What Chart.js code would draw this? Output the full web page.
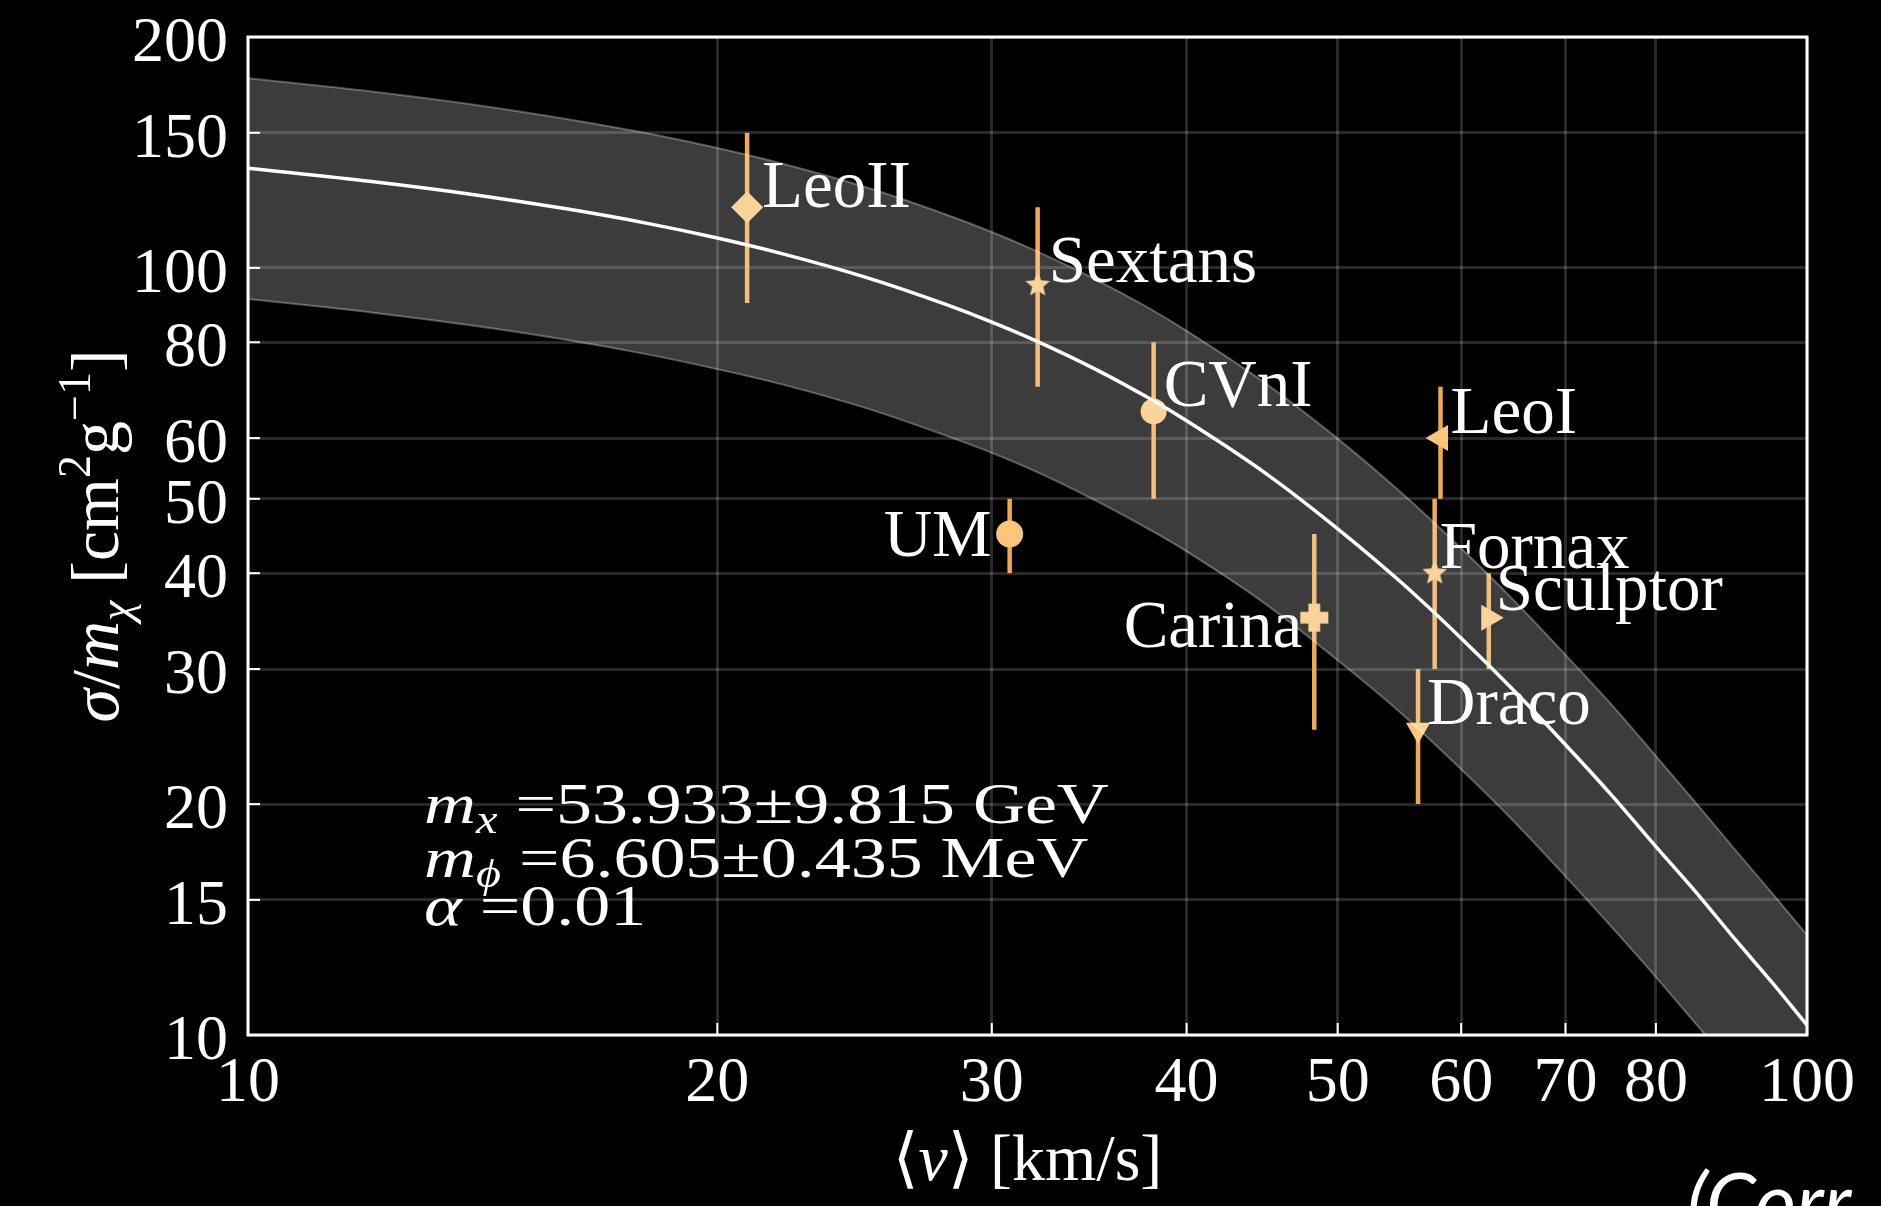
<!DOCTYPE html>
<html>
<head>
<meta charset="utf-8">
<title>sigma/m vs velocity</title>
<script src="https://cdn.jsdelivr.net/npm/chart.js@4.4.1/dist/chart.umd.min.js"></script>
<style>
  html,body{margin:0;padding:0;background:#000;overflow:hidden}
  #wrap{position:relative;width:1881px;height:1206px}
</style>
</head>
<body>
<div id="wrap"><canvas id="chart"></canvas></div>
<script>
// --- values ---
const galaxies = ['LeoII','Sextans','CVnI','UM','Carina','LeoI','Fornax','Sculptor','Draco']
const galV     = [20.9, 32.1, 38.1, 30.8, 48.3, 58.2, 57.7, 62.5, 56.3]
const galSigma = [120, 95, 65, 45, 35, 60, 40, 35, 25]
const galLo    = [90, 70, 50, 40, 25, 50, 30, 30, 20]
const galHi    = [150, 120, 80, 50, 45, 70, 50, 40, 30]

const curveV  = [10,12,14,16,18,20,22,25,28,30,32,35,38,40,45,50,55,60,65,70,75,80,85,90,95,100]
const fitMid  = [134.9,129.6,124.5,119.4,114.4,109.4,104.4,97.0,89.7,85.0,80.4,73.7,67.3,63.2,53.9,45.7,38.8,32.9,28.0,23.9,20.5,17.6,15.3,13.3,11.7,10.3]
const fitHigh = [176.7,169.8,163.1,156.4,149.9,143.3,136.8,127.1,117.5,111.4,105.3,96.5,88.2,82.8,70.6,59.9,50.8,43.1,36.7,31.3,26.9,23.1,20.0,17.4,15.3,13.5]
const fitLow  = [91.1,87.5,84.0,80.6,77.2,73.8,70.5,65.5,60.5,57.4,54.3,49.7,45.4,42.7,36.4,30.8,26.2,22.2,18.9,16.1,13.8,11.9,10.3,9.0,7.9,7.0]

const xTicks = [10,20,30,40,50,60,70,80,100]
const yTicks = [10,15,20,30,40,50,60,80,100,150,200]

// --- look ---
const SERIF = '"Liberation Serif", "DejaVu Serif", "DejaVu Sans", serif'
const markFill = '#f9c67a'
const errColor = '#f2aa52'
const bandFill = 'rgba(255,255,255,0.235)'
const bandEdge = 'rgba(255,255,255,0.30)'
const gridColor = 'rgba(255,255,255,0.16)'

// label offsets in px from the marker [dx, dy, align]
const labelPos = [[15,0,'left'],[11,-3,'left'],[10,-5,'left'],[-18,22,'right'],[-12,29,'right'],
                  [10,-5,'left'],[5,-5,'left'],[7,-8,'left'],[9,-6,'left']]

function starCanvas(r){
  const s = Math.ceil(r*2+4), c = document.createElement('canvas')
  c.width = c.height = s
  const g = c.getContext('2d')
  g.fillStyle = markFill
  g.beginPath()
  for(let k=0;k<10;k++){
    const a = -Math.PI/2 + k*Math.PI/5, rr = k%2 ? r*0.45 : r
    g.lineTo(s/2 + rr*Math.cos(a), s/2 + rr*Math.sin(a))
  }
  g.closePath(); g.fill()
  return c
}
function plusCanvas(r){
  const s = Math.ceil(r*2+2), c = document.createElement('canvas')
  c.width = c.height = s
  const g = c.getContext('2d'), h = r*0.42, m = s/2
  g.fillStyle = markFill
  g.fillRect(m-h, m-r, 2*h, 2*r)
  g.fillRect(m-r, m-h, 2*r, 2*h)
  return c
}
const star = starCanvas(13)
const markers  = ['rectRot', star, 'circle', 'circle', plusCanvas(14), 'triangle', star, 'triangle', 'triangle']
const rotation = [0, 0, 0, 0, 0, -90, 0, 90, 180]
const radius   = [16, 13, 13, 13.5, 14, 15, 13, 15, 14]

// draw a run of [text, font, dy] pieces starting at x
function runsWidth(ctx, runs){
  let w = 0
  runs.forEach(r => { ctx.font = r[1]; w += ctx.measureText(r[0]).width })
  return w
}
function drawRuns(ctx, runs, x, y){
  let cx = x
  runs.forEach(r => {
    ctx.font = r[1]
    ctx.fillText(r[0], cx, y + (r[2] || 0))
    cx += ctx.measureText(r[0]).width
  })
}

const overlay = {
  id: 'overlay',
  beforeDatasetDraw(chart, args){
    if(args.index !== 3) return
    const {x, y} = chart.scales, ctx = chart.ctx
    ctx.save()
    ctx.strokeStyle = errColor
    ctx.lineWidth = 4.5
    galV.forEach((v,i) => {
      const px = x.getPixelForValue(v)
      ctx.beginPath()
      ctx.moveTo(px, y.getPixelForValue(galHi[i]))
      ctx.lineTo(px, y.getPixelForValue(galLo[i]))
      ctx.stroke()
    })
    ctx.restore()
  },
  afterDraw(chart){
    const {x, y} = chart.scales, ctx = chart.ctx, a = chart.chartArea
    ctx.save()
    ctx.fillStyle = '#fff'
    ctx.textBaseline = 'alphabetic'

    // galaxy names
    ctx.font = `67px ${SERIF}`
    galaxies.forEach((g,i) => {
      const [dx, dy, al] = labelPos[i]
      ctx.textAlign = al
      ctx.fillText(g, x.getPixelForValue(galV[i]) + dx, y.getPixelForValue(galSigma[i]) + dy)
    })
    ctx.textAlign = 'left'

    // frame + inward ticks
    ctx.strokeStyle = '#fff'
    ctx.lineWidth = 3
    ctx.strokeRect(a.left, a.top, a.right - a.left, a.bottom - a.top)
    ctx.lineWidth = 2
    yTicks.slice(1, -1).forEach(v => {
      const py = y.getPixelForValue(v)
      ctx.beginPath(); ctx.moveTo(a.left, py); ctx.lineTo(a.left + 12, py); ctx.stroke()
    })
    xTicks.slice(1, -1).forEach(v => {
      const px = x.getPixelForValue(v)
      ctx.beginPath(); ctx.moveTo(px, a.bottom); ctx.lineTo(px, a.bottom - 12); ctx.stroke()
    })

    // fit parameters
    const big = `58px ${SERIF}`, it = `italic 58px ${SERIF}`, sub = `italic 39px ${SERIF}`
    const lines = [
      [['m', it], ['x', sub, 10], [' =53.933\u00b19.815 GeV', big]],
      [['m', it], ['\u03d5', sub, 10], [' =6.605\u00b10.435 MeV', big]],
      [['\u03b1', it], [' =0.01', big]]
    ]
    const baseY = [823, 877, 925]
    lines.forEach((ln, i) => {
      ctx.save()
      ctx.translate(424, baseY[i])
      ctx.scale(1.24, 1)
      drawRuns(ctx, ln, 0, 0)
      ctx.restore()
    })

    // y title
    const f = `68px ${SERIF}`, fi = `italic 68px ${SERIF}`, fs = `46px ${SERIF}`, fsi = `italic 46px ${SERIF}`
    const yTitle = [['\u03c3', fi], ['/', f], ['m', fi], ['\u03c7', fsi, 13], [' [cm', f], ['2', fs, -28],
                    ['g', f], ['\u22121', fs, -28], [']', f]]
    ctx.save()
    ctx.translate(118, (a.top + a.bottom) / 2)
    ctx.rotate(-Math.PI / 2)
    drawRuns(ctx, yTitle, -runsWidth(ctx, yTitle) / 2, 0)
    ctx.restore()

    // x title
    const xf = `66px ${SERIF}`, xfi = `italic 66px ${SERIF}`
    const xTitle = [['\u27e8', xf], ['v', xfi], ['\u27e9', xf], [' [km/s]', xf]]
    drawRuns(ctx, xTitle, (a.left + a.right) / 2 - runsWidth(ctx, xTitle) / 2, 1180)

    // cropped citation at the bottom edge
    ctx.font = 'italic 80px Lato, "Open Sans", sans-serif'
    ctx.fillText('(Corr', 1687, 1230)
    ctx.restore()
  }
}

Chart.defaults.color = '#fff'
Chart.defaults.font.family = SERIF

const tickFont = {size: 64, lineHeight: 1.1}

new Chart(document.getElementById('chart'), {
  type: 'line',
  data: {
    datasets: [
      { label: 'lower', data: curveV.map((v,i) => ({x: v, y: fitLow[i]})),
        borderColor: bandEdge, borderWidth: 2, pointRadius: 0, fill: false, cubicInterpolationMode: 'monotone' },
      { label: 'upper', data: curveV.map((v,i) => ({x: v, y: fitHigh[i]})),
        borderColor: bandEdge, borderWidth: 2, pointRadius: 0, fill: '-1', backgroundColor: bandFill, cubicInterpolationMode: 'monotone' },
      { label: 'fit', data: curveV.map((v,i) => ({x: v, y: fitMid[i]})),
        borderColor: '#fff', borderWidth: 3.5, pointRadius: 0, fill: false, cubicInterpolationMode: 'monotone' },
      { label: 'dwarfs', data: galV.map((v,i) => ({x: v, y: galSigma[i]})),
        showLine: false, pointStyle: markers, rotation: rotation, pointRadius: radius,
        pointBackgroundColor: markFill, pointBorderColor: markFill, pointBorderWidth: 0 }
    ]
  },
  options: {
    responsive: true,
    maintainAspectRatio: false,
    animation: false,
    layout: { padding: { top: 37, right: 74, left: 0, bottom: 0 } },
    plugins: { legend: { display: false }, tooltip: { enabled: false } },
    scales: {
      x: {
        type: 'logarithmic', min: 10, max: 100,
        afterBuildTicks: ax => { ax.ticks = xTicks.map(v => ({value: v})) },
        afterFit: ax => { ax.height = 171 },
        border: { display: false },
        grid: { color: gridColor, lineWidth: 3, drawTicks: true, tickLength: 14, tickColor: 'transparent' },
        ticks: { font: tickFont, color: '#fff', padding: 0, autoSkip: false, maxRotation: 0, minRotation: 0,
                 callback: v => String(v) }
      },
      y: {
        type: 'logarithmic', min: 10, max: 200,
        afterBuildTicks: ax => { ax.ticks = yTicks.map(v => ({value: v})) },
        afterFit: ax => { ax.width = 248 },
        border: { display: false },
        grid: { color: gridColor, lineWidth: 3, drawTicks: true, tickLength: 20, tickColor: 'transparent' },
        ticks: { font: tickFont, color: '#fff', padding: 0, labelOffset: 7, autoSkip: false,
                 callback: v => String(v) }
      }
    }
  },
  plugins: [overlay]
})
</script>
</body>
</html>
